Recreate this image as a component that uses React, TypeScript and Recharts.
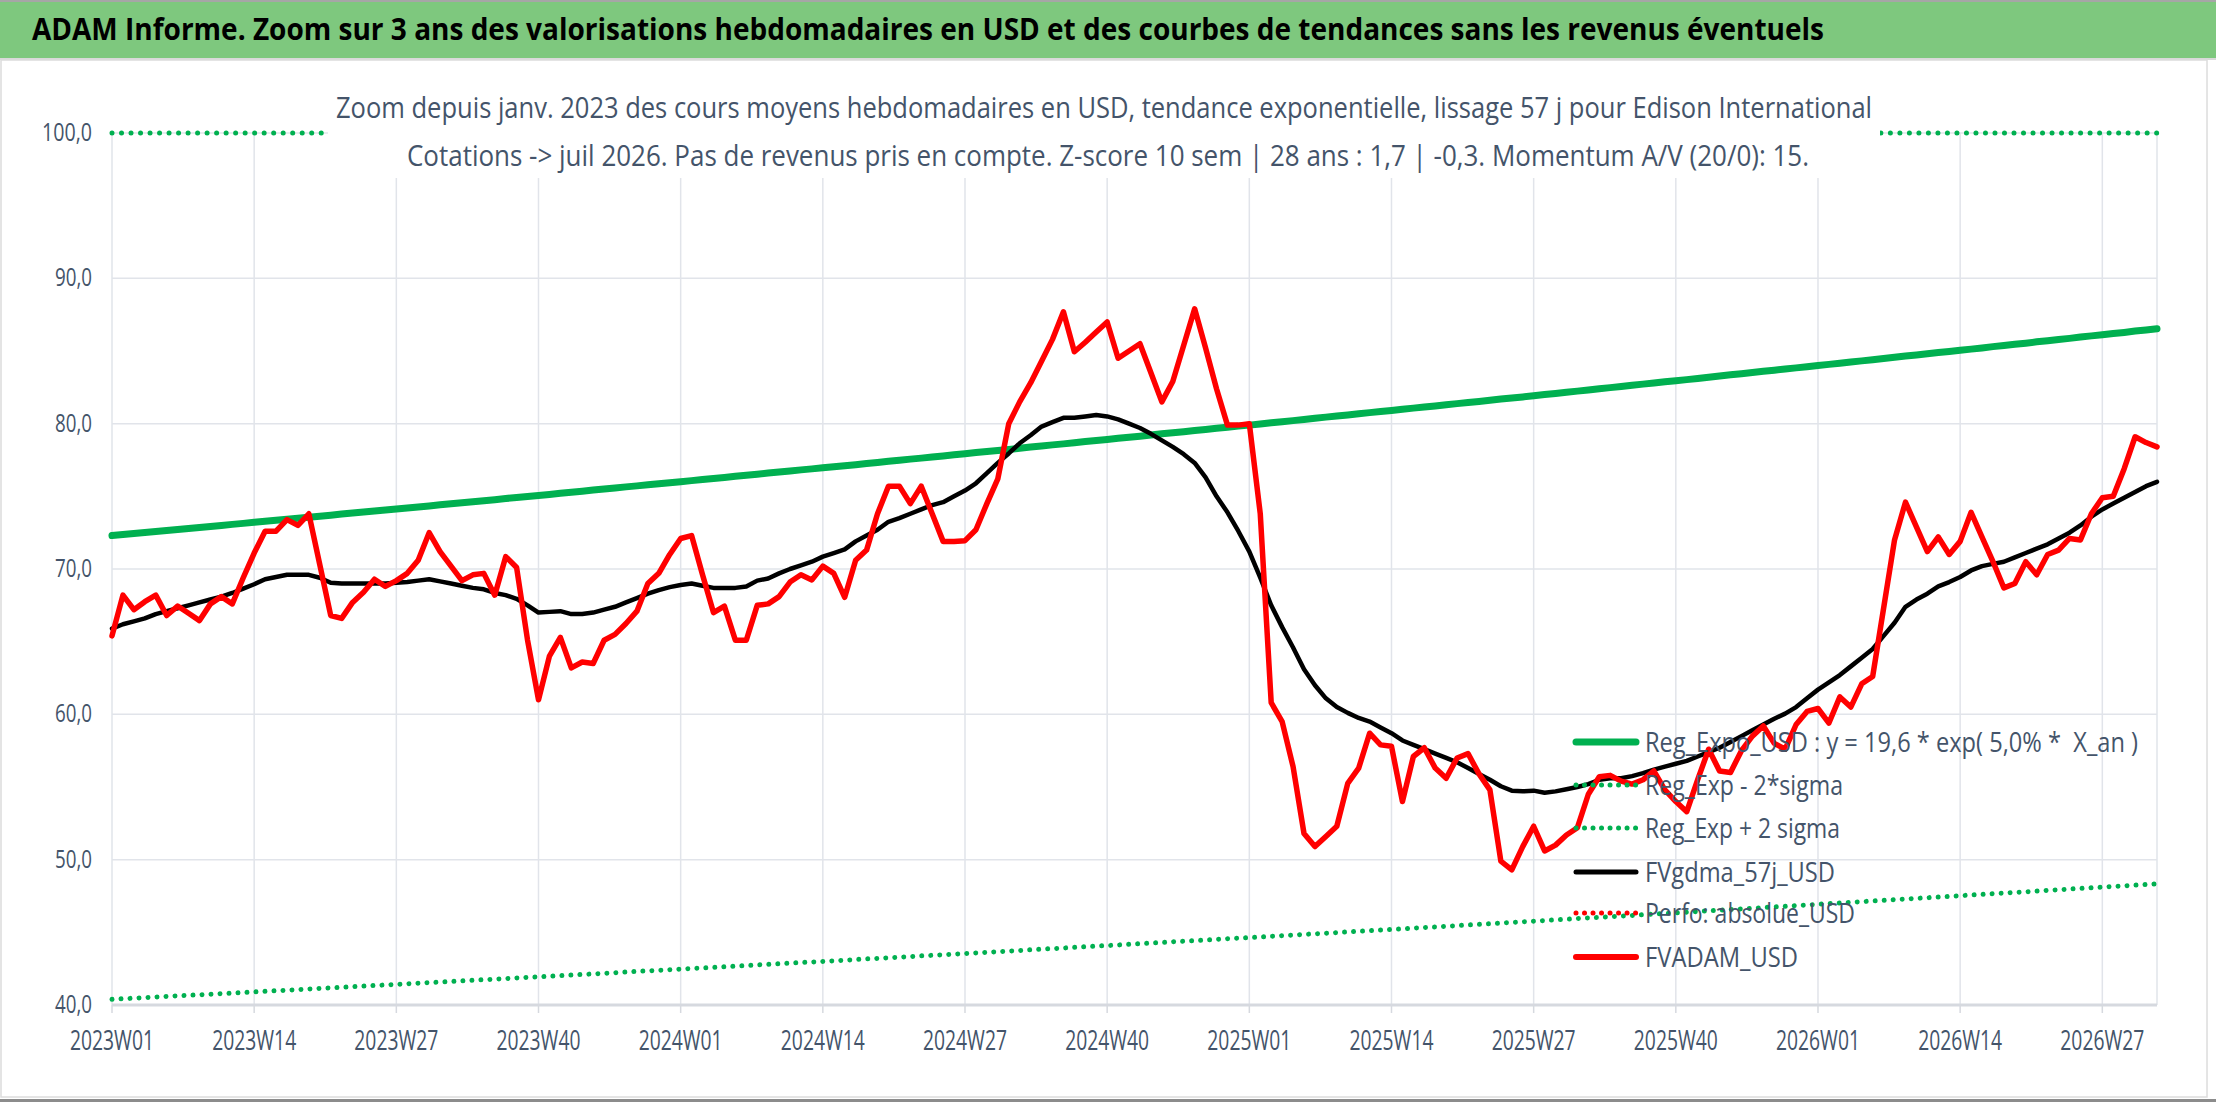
import React from 'react';
import { LineChart, Line, XAxis, YAxis, CartesianGrid, ReferenceLine, Legend } from 'recharts';

const FONT = "'Open Sans', 'Noto Sans', 'DejaVu Sans', sans-serif";
const TXT = '#44546A';

const TITLE = 'ADAM Informe. Zoom sur 3 ans des valorisations hebdomadaires en USD et des courbes de tendances sans les revenus éventuels';
const SUB1 = 'Zoom depuis janv. 2023 des cours moyens hebdomadaires en USD, tendance exponentielle, lissage 57 j pour Edison International';
const SUB2 = 'Cotations -> juil 2026. Pas de revenus pris en compte. Z-score 10 sem | 28 ans : 1,7 | -0,3. Momentum A/V (20/0): 15.';

// categories: ISO-like weeks 2023W01 .. 2026W32
const YEARS = [2023, 2024, 2025, 2026];
const WEEKS_PER_YEAR = [52, 52, 52, 32];
const WEEKS: string[] = YEARS.flatMap((y, k) =>
  Array.from({ length: WEEKS_PER_YEAR[k] }, (_, j) => `${y}W${String(j + 1).padStart(2, '0')}`)
);

const Y_TICKS = [40, 50, 60, 70, 80, 90, 100];

// Reg_Expo_USD (green solid)
const REG_EXPO = [
  72.30, 72.37, 72.44, 72.51, 72.58, 72.65, 72.72, 72.79, 72.86, 72.93, 73.00, 73.07, 73.14,
  73.21, 73.28, 73.35, 73.42, 73.49, 73.56, 73.63, 73.70, 73.78, 73.85, 73.92, 73.99, 74.06,
  74.13, 74.20, 74.27, 74.34, 74.42, 74.49, 74.56, 74.63, 74.70, 74.77, 74.85, 74.92, 74.99,
  75.06, 75.13, 75.21, 75.28, 75.35, 75.43, 75.50, 75.57, 75.65, 75.72, 75.79, 75.87, 75.94,
  76.01, 76.08, 76.16, 76.23, 76.30, 76.38, 76.45, 76.52, 76.60, 76.67, 76.74, 76.82, 76.89,
  76.96, 77.03, 77.11, 77.18, 77.26, 77.33, 77.41, 77.48, 77.56, 77.63, 77.71, 77.78, 77.86,
  77.93, 78.01, 78.08, 78.16, 78.23, 78.31, 78.39, 78.46, 78.54, 78.61, 78.69, 78.77, 78.84,
  78.91, 78.99, 79.07, 79.14, 79.22, 79.30, 79.37, 79.45, 79.53, 79.60, 79.68, 79.76, 79.83,
  79.90, 79.98, 80.06, 80.13, 80.21, 80.29, 80.37, 80.45, 80.52, 80.60, 80.68, 80.76, 80.83,
  80.91, 80.99, 81.07, 81.14, 81.22, 81.30, 81.38, 81.46, 81.53, 81.61, 81.69, 81.77, 81.84,
  81.92, 82.00, 82.08, 82.16, 82.24, 82.32, 82.40, 82.48, 82.56, 82.64, 82.72, 82.80, 82.88,
  82.95, 83.03, 83.11, 83.19, 83.28, 83.36, 83.44, 83.52, 83.60, 83.68, 83.76, 83.84, 83.92,
  84.00, 84.08, 84.16, 84.24, 84.32, 84.40, 84.48, 84.57, 84.65, 84.73, 84.81, 84.89, 84.97,
  85.05, 85.13, 85.21, 85.30, 85.38, 85.46, 85.54, 85.63, 85.71, 85.79, 85.87, 85.96, 86.04,
  86.12, 86.20, 86.28, 86.37, 86.45, 86.53,
];

// Reg_Exp - 2*sigma (green dotted)
const REG_LOW = [
  40.39, 40.43, 40.47, 40.51, 40.55, 40.59, 40.63, 40.67, 40.70, 40.74, 40.78, 40.82, 40.86,
  40.90, 40.94, 40.98, 41.02, 41.06, 41.10, 41.14, 41.18, 41.22, 41.26, 41.30, 41.34, 41.38,
  41.42, 41.46, 41.50, 41.54, 41.58, 41.62, 41.66, 41.70, 41.74, 41.78, 41.82, 41.86, 41.90,
  41.94, 41.98, 42.02, 42.06, 42.10, 42.14, 42.18, 42.22, 42.27, 42.31, 42.35, 42.39, 42.43,
  42.47, 42.51, 42.55, 42.59, 42.63, 42.67, 42.71, 42.76, 42.80, 42.84, 42.88, 42.92, 42.96,
  43.00, 43.04, 43.08, 43.13, 43.17, 43.21, 43.25, 43.29, 43.33, 43.38, 43.42, 43.46, 43.50,
  43.54, 43.58, 43.63, 43.67, 43.71, 43.75, 43.80, 43.84, 43.88, 43.92, 43.97, 44.01, 44.05,
  44.09, 44.13, 44.18, 44.22, 44.26, 44.30, 44.35, 44.39, 44.43, 44.47, 44.52, 44.56, 44.60,
  44.64, 44.68, 44.73, 44.77, 44.81, 44.86, 44.90, 44.94, 44.98, 45.03, 45.07, 45.11, 45.16,
  45.20, 45.24, 45.29, 45.33, 45.37, 45.42, 45.46, 45.51, 45.55, 45.59, 45.64, 45.68, 45.73,
  45.77, 45.81, 45.86, 45.90, 45.95, 45.99, 46.03, 46.08, 46.12, 46.16, 46.21, 46.25, 46.30,
  46.34, 46.39, 46.43, 46.48, 46.52, 46.57, 46.61, 46.66, 46.70, 46.75, 46.79, 46.84, 46.88,
  46.93, 46.98, 47.02, 47.07, 47.11, 47.16, 47.20, 47.25, 47.29, 47.34, 47.38, 47.43, 47.47,
  47.52, 47.57, 47.61, 47.66, 47.70, 47.75, 47.79, 47.84, 47.89, 47.93, 47.98, 48.02, 48.07,
  48.11, 48.16, 48.20, 48.25, 48.29, 48.34,
];

// Reg_Exp + 2 sigma : above the axis maximum, drawn on the 100 border
const REG_HIGH_CLIPPED = 100;

// FVgdma_57j_USD (black)
const GDMA = [
  65.9, 66.2, 66.4, 66.6, 66.9, 67.1, 67.3, 67.5, 67.7, 67.9, 68.1, 68.35, 68.65,
  68.95, 69.3, 69.45, 69.6, 69.6, 69.6, 69.4, 69.05, 69.0, 69.0, 69.0, 69.0, 69.0,
  69.05, 69.1, 69.2, 69.3, 69.15, 69.0, 68.85, 68.7, 68.6, 68.35, 68.2, 67.95, 67.5,
  67.0, 67.05, 67.1, 66.9, 66.9, 67.0, 67.2, 67.4, 67.7, 68.0, 68.3, 68.55, 68.75,
  68.9, 69.0, 68.85, 68.7, 68.7, 68.7, 68.8, 69.2, 69.35, 69.7, 70.0, 70.25, 70.5,
  70.85, 71.1, 71.35, 71.9, 72.3, 72.7, 73.25, 73.5, 73.8, 74.1, 74.4, 74.6, 75.0,
  75.4, 75.9, 76.6, 77.3, 77.95, 78.65, 79.2, 79.8, 80.1, 80.4, 80.4, 80.5, 80.6,
  80.5, 80.3, 80.0, 79.7, 79.3, 78.85, 78.4, 77.9, 77.3, 76.3, 75.0, 73.9, 72.6,
  71.2, 69.4, 67.5, 66.0, 64.6, 63.1, 62.0, 61.1, 60.5, 60.1, 59.75, 59.5, 59.1,
  58.7, 58.2, 57.9, 57.6, 57.3, 57.0, 56.7, 56.3, 55.9, 55.5, 55.05, 54.75, 54.7,
  54.75, 54.6, 54.7, 54.85, 55.0, 55.2, 55.5, 55.6, 55.6, 55.75, 55.95, 56.2, 56.4,
  56.6, 56.8, 57.1, 57.4, 57.7, 58.1, 58.5, 58.9, 59.3, 59.7, 60.05, 60.5, 61.1,
  61.7, 62.2, 62.7, 63.3, 63.9, 64.5, 65.4, 66.3, 67.4, 67.9, 68.3, 68.8, 69.1,
  69.45, 69.9, 70.2, 70.35, 70.5, 70.8, 71.1, 71.4, 71.7, 72.1, 72.5, 73.0, 73.6,
  74.1, 74.5, 74.9, 75.3, 75.7, 76.0,
];

// FVADAM_USD (red)
const ADAM = [
  65.4, 68.2, 67.2, 67.75, 68.2, 66.8, 67.45, 66.95, 66.45, 67.6, 68.1, 67.6, 69.4,
  71.1, 72.6, 72.6, 73.4, 73.0, 73.8, 70.3, 66.8, 66.6, 67.7, 68.4, 69.3, 68.8,
  69.2, 69.7, 70.6, 72.5, 71.2, 70.2, 69.2, 69.6, 69.7, 68.2, 70.85, 70.1, 65.1,
  61.0, 64.0, 65.3, 63.2, 63.6, 63.5, 65.1, 65.5, 66.25, 67.1, 69.0, 69.7, 71.0,
  72.1, 72.3, 69.6, 67.0, 67.45, 65.1, 65.1, 67.5, 67.6, 68.1, 69.1, 69.6, 69.25,
  70.2, 69.7, 68.05, 70.6, 71.3, 73.8, 75.7, 75.7, 74.5, 75.7, 73.8, 71.9, 71.9,
  71.95, 72.7, 74.5, 76.2, 80.0, 81.5, 82.8, 84.3, 85.8, 87.7, 84.95, 85.6, 86.3,
  87.0, 84.5, 85.0, 85.5, 83.5, 81.5, 82.9, 85.4, 87.9, 85.2, 82.4, 79.9, 79.9,
  80.0, 73.8, 60.8, 59.5, 56.4, 51.8, 50.9, 51.6, 52.3, 55.25, 56.3, 58.7, 57.9,
  57.8, 54.0, 57.1, 57.7, 56.3, 55.6, 57.0, 57.3, 55.9, 54.8, 49.9, 49.3, 50.9,
  52.3, 50.6, 51.0, 51.7, 52.2, 54.5, 55.7, 55.8, 55.4, 55.2, 55.5, 56.1, 54.8,
  54.0, 53.3, 55.5, 57.6, 56.1, 56.0, 57.5, 58.5, 59.2, 58.0, 57.6, 59.3, 60.2,
  60.4, 59.4, 61.2, 60.5, 62.1, 62.6, 67.3, 72.0, 74.6, 72.9, 71.2, 72.2, 71.0,
  71.9, 73.9, 72.2, 70.5, 68.7, 69.0, 70.5, 69.6, 71.0, 71.3, 72.1, 72.0, 73.8,
  74.9, 75.0, 76.9, 79.1, 78.7, 78.4,
];

const LEGEND_ITEMS = [
  { label: 'Reg_Expo_USD : y = 19,6 * exp( 5,0% *  X_an )', color: '#00B050', dotted: false, w: 7, len: 493 },
  { label: 'Reg_Exp - 2*sigma', color: '#00B050', dotted: true, w: 5, len: 198 },
  { label: 'Reg_Exp + 2 sigma', color: '#00B050', dotted: true, w: 5, len: 195 },
  { label: 'FVgdma_57j_USD', color: '#000000', dotted: false, w: 5, len: 190 },
  { label: 'Perfo: absolue_USD', color: '#FF0000', dotted: true, w: 5, len: 210 },
  { label: 'FVADAM_USD', color: '#FF0000', dotted: false, w: 6, len: 153 },
];
const LEGEND_ROW_Y = [27, 70, 113, 157, 198, 242];
const LEGEND_SX = 0.78;

const rows = WEEKS.map((w, i) => ({
  week: w,
  reg: REG_EXPO[i],
  low: REG_LOW[i],
  gdma: GDMA[i],
  adam: ADAM[i],
}));

const XTick = (props: any) => {
  const { x, y, payload } = props;
  return (
    <text x={x} y={y + 35} textAnchor="middle" fontFamily={FONT} fontSize={27} fill={TXT}
      textLength={84} lengthAdjust="spacingAndGlyphs">
      {payload.value}
    </text>
  );
};

const YTick = (props: any) => {
  const { x, y, payload } = props;
  const label = Number(payload.value).toFixed(1).replace('.', ',');
  return (
    <text x={x - 20} y={y + 8} textAnchor="end" fontFamily={FONT} fontSize={25} fill={TXT}
      textLength={label.length === 5 ? 50 : 37} lengthAdjust="spacingAndGlyphs">
      {label}
    </text>
  );
};

const LegendBox = () => (
  <svg width={658} height={265} style={{ overflow: 'visible', display: 'block' }}>
    {LEGEND_ITEMS.map((it, k) => {
      const cy = LEGEND_ROW_Y[k];
      return (
        <g key={it.label}>
          <line x1={18} x2={78} y1={cy} y2={cy} stroke={it.color} strokeWidth={it.w}
            strokeLinecap="round" strokeDasharray={it.dotted ? '0.01 8.5' : undefined} />
          <g transform={`translate(87 ${cy + 10}) scale(${LEGEND_SX} 1)`}>
            <text x={0} y={0} fontFamily={FONT} fontSize={28} fill={TXT}
              textLength={it.len / LEGEND_SX} lengthAdjust="spacingAndGlyphs" style={{ whiteSpace: 'pre' }}>
              {it.label}
            </text>
          </g>
        </g>
      );
    })}
  </svg>
);

export default function App() {
  return (
    <div style={{ position: 'absolute', left: 0, top: 0, width: 2216, height: 1102, background: '#fff', overflow: 'hidden' }}>
      <LineChart width={2216} height={1102} data={rows} margin={{ top: 133, right: 59, bottom: 0, left: 52 }}>
        <CartesianGrid stroke="#E1E4EA" strokeWidth={1.5} />
        <XAxis dataKey="week" interval={12} height={97} tick={<XTick />} tickSize={8} tickMargin={2}
          tickLine={{ stroke: '#D6D9DF', strokeWidth: 1.5 }} axisLine={{ stroke: '#D6D9DF', strokeWidth: 3 }} />
        <YAxis domain={[40, 100]} ticks={Y_TICKS} width={60} axisLine={false} tickLine={false}
          tickSize={0} tickMargin={0} tick={<YTick />} interval={0} />
        <ReferenceLine y={REG_HIGH_CLIPPED} stroke="#00B050" strokeWidth={5} strokeLinecap="round"
          strokeDasharray="0.01 9.5" />
        <Line type="linear" dataKey="reg" stroke="#00B050" strokeWidth={7} dot={false} isAnimationActive={false}
          strokeLinecap="round" strokeLinejoin="round" />
        <Line type="linear" dataKey="low" stroke="#00B050" strokeWidth={5} dot={false} isAnimationActive={false}
          strokeLinecap="round" strokeDasharray="0.01 9" />
        <Line type="linear" dataKey="gdma" stroke="#000000" strokeWidth={4.5} dot={false} isAnimationActive={false}
          strokeLinejoin="round" strokeLinecap="round" />
        <Line type="linear" dataKey="adam" stroke="#FF0000" strokeWidth={5.5} dot={false} isAnimationActive={false}
          strokeLinejoin="round" strokeLinecap="round" />
        <Legend layout="vertical" align="center" verticalAlign="middle" content={() => <LegendBox />}
          wrapperStyle={{ left: 1558, top: 715, width: 658, height: 265, margin: 0, padding: 0 }} />
      </LineChart>
      <svg width={2216} height={1102} style={{ position: 'absolute', left: 0, top: 0, pointerEvents: 'none' }}>
        <rect x={0} y={0} width={2216} height={2} fill="#A6A6A6" />
        <rect x={0} y={2} width={2216} height={56} fill="#7EC87E" />
        <rect x={0} y={58} width={2216} height={2} fill="#D9D9D9" />
        <rect x={1} y={60} width={2206} height={1037} fill="none" stroke="#DCDCDC" strokeWidth={1.5} />
        <rect x={0} y={1099} width={2216} height={3} fill="#8C8C8C" />
        <text x={32} y={40} fontFamily={FONT} fontSize={31} fontWeight="bold" fill="#000"
          textLength={1792} lengthAdjust="spacingAndGlyphs">{TITLE}</text>
        <rect x={328} y={64} width={1552} height={114} fill="#fff" />
        <text x={336} y={118} fontFamily={FONT} fontSize={29} fontWeight={500} fill={TXT}
          textLength={1536} lengthAdjust="spacingAndGlyphs">{SUB1}</text>
        <text x={407} y={166} fontFamily={FONT} fontSize={29} fontWeight={500} fill={TXT}
          textLength={1402} lengthAdjust="spacingAndGlyphs">{SUB2}</text>
      </svg>
    </div>
  );
}
